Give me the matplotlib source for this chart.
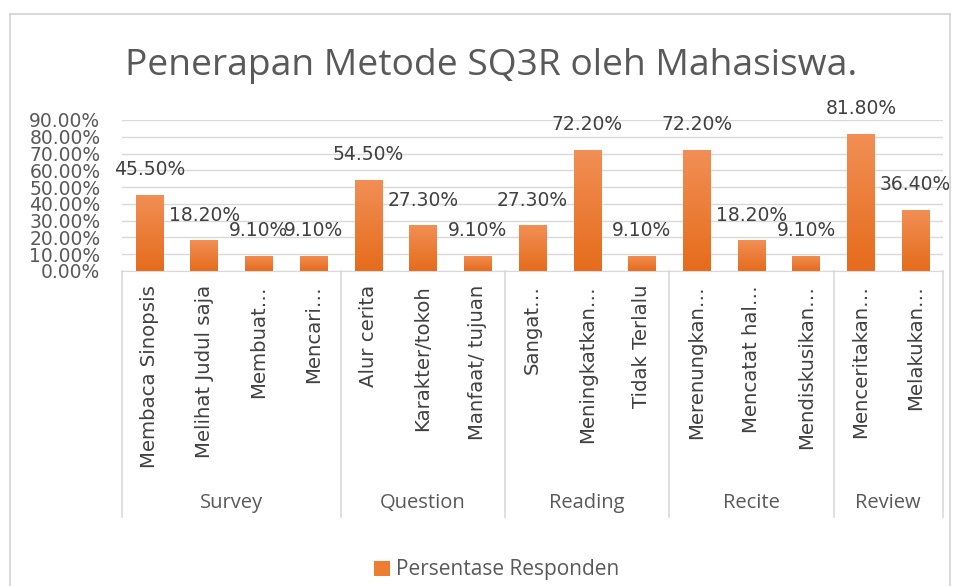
import numpy as np
import matplotlib
matplotlib.use("Agg")
import matplotlib.pyplot as plt
from matplotlib.patches import Rectangle
from matplotlib.colors import LinearSegmentedColormap
import matplotlib.transforms as mtransforms

# chart data
groups = ["Survey", "Question", "Reading", "Recite", "Review"]
group_sizes = [4, 3, 3, 3, 2]
categories = ["Membaca Sinopsis", "Melihat Judul saja", "Membuat\u2026", "Mencari\u2026",
              "Alur cerita", "Karakter/tokoh", "Manfaat/ tujuan",
              "Sangat\u2026", "Meningkatkan\u2026", "Tidak Terlalu",
              "Merenungkan\u2026", "Mencatat hal\u2026", "Mendiskusikan\u2026",
              "Menceritakan\u2026", "Melakukan\u2026"]
values = [0.455, 0.182, 0.091, 0.091,
          0.545, 0.273, 0.091,
          0.273, 0.722, 0.091,
          0.722, 0.182, 0.091,
          0.818, 0.364]
yticks = [0.0, 0.1, 0.2, 0.3, 0.4, 0.5, 0.6, 0.7, 0.8, 0.9]
title = "Penerapan Metode SQ3R oleh Mahasiswa."
series_name = "Persentase Responden"

W, H = 957, 586
fig = plt.figure(figsize=(W / 100, H / 100), dpi=100)

# axes placed in pixel terms
ax_l, ax_r, ax_t, ax_b = 122, 943, 120, 271
ax = fig.add_axes([ax_l / W, (H - ax_b) / H, (ax_r - ax_l) / W, (ax_b - ax_t) / H])
ax_h = ax_b - ax_t

grey = "#595959"
dark = "#404040"
orange = "#ED7D31"

x = np.arange(len(values))
bars = ax.bar(x, values, width=0.5, color=orange, zorder=3, label=series_name)

# light-to-dark gradient inside each bar
cmap = LinearSegmentedColormap.from_list("og", ["#E56C1C", "#F28F55"])
grad = np.linspace(0, 1, 64).reshape(-1, 1)
for b in bars:
    im = ax.imshow(grad, extent=[b.get_x(), b.get_x() + b.get_width(), 0, b.get_height()],
                   origin="lower", aspect="auto", cmap=cmap, zorder=4)
    im.set_clip_path(b)

ax.set_xlim(-0.5, len(values) - 0.5)
ax.set_ylim(0, 0.9)
ax.set_yticks(yticks)
ax.set_yticklabels([f"{v:.2%}" for v in yticks], fontsize=13.5, color=grey)
ax.tick_params(axis="y", length=0, pad=15.5)
ax.set_xticks([])
ax.grid(axis="y", color="#d9d9d9", lw=1, zorder=0)
for s in ["top", "right", "left"]:
    ax.spines[s].set_visible(False)
ax.spines["bottom"].set_color("#d9d9d9")
ax.spines["bottom"].set_zorder(5)

# data labels
for xi, v in zip(x, values):
    ax.annotate(f"{v:.2%}", (xi, v), xytext=(0, 25), textcoords="offset pixels",
                ha="center", va="center", fontsize=13.5, color=dark, zorder=6)

# multi-level category axis
trans = mtransforms.blended_transform_factory(ax.transData, ax.transAxes)
lab_y = -(285 - ax_b) / ax_h
grp_y = -(503 - ax_b) / ax_h
line_y = -(517 - ax_b) / ax_h
for xi, c in zip(x, categories):
    ax.text(xi, lab_y, c, rotation=90, ha="center", va="top", transform=trans,
            fontsize=14.2, color=dark)

edges = np.concatenate([[0], np.cumsum(group_sizes)]) - 0.5
for e in edges:
    ax.plot([e, e], [0, line_y], transform=trans, color="#d9d9d9", lw=1.2, clip_on=False)
for g, a, b in zip(groups, edges[:-1], edges[1:]):
    ax.text((a + b) / 2, grp_y, g, ha="center", va="center", transform=trans,
            fontsize=14.5, color=grey, family="Open Sans")

fig.text(491 / W, 1 - 66 / H, title, ha="center", va="center", fontsize=26.8,
         color=grey, family="Open Sans")

fig.legend(handles=[bars], labels=[series_name], loc="center",
           bbox_to_anchor=(497 / W, 1 - 570 / H), frameon=False,
           handlelength=0.75, handleheight=0.75, handletextpad=0.3,
           prop={"family": "Open Sans", "size": 15}, labelcolor=grey)

# chart border
fig.patches.append(Rectangle((10 / W, -0.05), 940 / W, (H - 14) / H + 0.05,
                             transform=fig.transFigure, fill=False,
                             ec="#d9d9d9", lw=1.5))

fig.savefig("out.png", dpi=100)
